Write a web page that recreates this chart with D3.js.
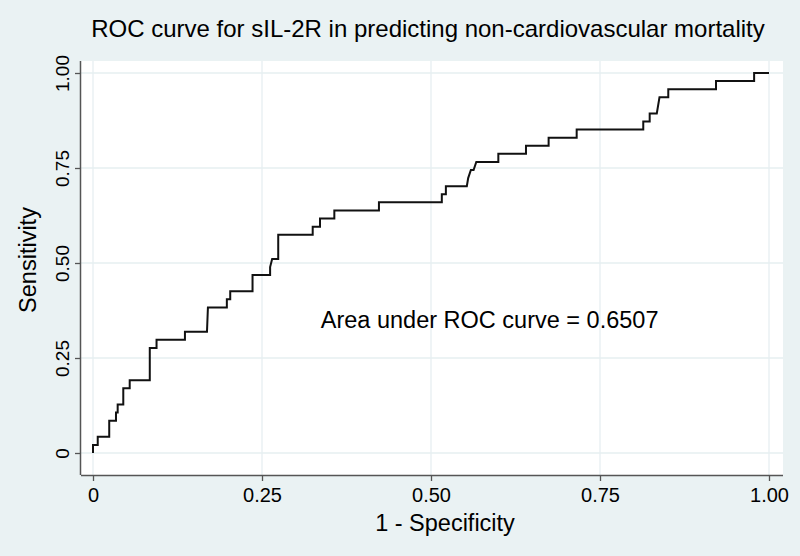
<!DOCTYPE html>
<html>
<head>
<meta charset="utf-8">
<script src="https://cdn.jsdelivr.net/npm/d3@7"></script>
<style>
  html, body { margin: 0; padding: 0; background: #eaf2f3; }
  svg text { font-family: "Liberation Sans", Arial, sans-serif; fill: #000; }
</style>
</head>
<body>
<svg id="chart" width="800" height="556"></svg>
<script>
// ROC curve corner points (1 - specificity, sensitivity)
const fpr  = [0, 0, 0.007, 0.007, 0.024, 0.024, 0.034, 0.034, 0.0365, 0.0365, 0.0448, 0.0448, 0.0543, 0.0543,
              0.084, 0.084, 0.094, 0.094, 0.136, 0.136, 0.1686, 0.170, 0.198, 0.198, 0.203, 0.203, 0.236, 0.236,
              0.262, 0.262, 0.265, 0.274, 0.274, 0.325, 0.325, 0.3358, 0.3358, 0.357, 0.357, 0.423, 0.423,
              0.516, 0.516, 0.522, 0.522, 0.553, 0.555, 0.559, 0.563, 0.567, 0.5996, 0.5996, 0.6405, 0.6405,
              0.674, 0.674, 0.7155, 0.7155, 0.814, 0.814, 0.8235, 0.8235, 0.834, 0.838, 0.851, 0.851,
              0.9216, 0.9216, 0.978, 0.978, 1.0];
const sens = [0, 0.0213, 0.0213, 0.0426, 0.0426, 0.0851, 0.0851, 0.1064, 0.1064, 0.1277, 0.1277, 0.1702, 0.1702, 0.1915,
              0.1915, 0.2766, 0.2766, 0.2979, 0.2979, 0.3191, 0.3191, 0.3830, 0.3830, 0.4043, 0.4043, 0.4255, 0.4255, 0.4681,
              0.4681, 0.4894, 0.5106, 0.5106, 0.5745, 0.5745, 0.5957, 0.5957, 0.6170, 0.6170, 0.6383, 0.6383, 0.6596,
              0.6596, 0.6809, 0.6809, 0.7021, 0.7021, 0.7234, 0.7447, 0.7447, 0.7660, 0.7660, 0.7872, 0.7872, 0.8085,
              0.8085, 0.8298, 0.8298, 0.8511, 0.8511, 0.8723, 0.8723, 0.8936, 0.8936, 0.9362, 0.9362, 0.9574,
              0.9574, 0.9787, 0.9787, 1.0, 1.0];
const xTicks = [0, 0.25, 0.5, 0.75, 1];
const xTickLabels = ["0", "0.25", "0.50", "0.75", "1.00"];
const yTicks = [0, 0.25, 0.5, 0.75, 1];
const yTickLabels = ["0", "0.25", "0.50", "0.75", "1.00"];
const titleText = "ROC curve for sIL-2R in predicting non-cardiovascular mortality";
const xTitle = "1 - Specificity";
const yTitle = "Sensitivity";
const aucText = "Area under ROC curve = 0.6507";
const aucPos = [0.337, 0.35];

const svg = d3.select("#chart");
const W = 800, H = 556;
const plot = { left: 81, right: 783, top: 61, bottom: 475 };
const FONT = "Liberation Sans, Arial, sans-serif";

svg.append("rect").attr("x", 0).attr("y", 0).attr("width", W).attr("height", H).attr("fill", "#eaf2f3");
svg.append("rect").attr("x", plot.left).attr("y", plot.top)
   .attr("width", plot.right - plot.left).attr("height", plot.bottom - plot.top).attr("fill", "#ffffff");

const x = d3.scaleLinear().domain([0, 1]).range([93, 769]);
const y = d3.scaleLinear().domain([0, 1]).range([453, 73]);

// gridlines
const grid = svg.append("g").attr("stroke", "#e6eff1").attr("stroke-width", 1.3);
grid.selectAll("line.h").data(yTicks).enter().append("line")
  .attr("x1", plot.left).attr("x2", plot.right)
  .attr("y1", d => y(d)).attr("y2", d => y(d));
grid.selectAll("line.v").data(xTicks).enter().append("line")
  .attr("y1", plot.top).attr("y2", plot.bottom)
  .attr("x1", d => x(d)).attr("x2", d => x(d));

// axes
const xAxis = d3.axisBottom(x).tickValues(xTicks).tickFormat((d, i) => xTickLabels[i]).tickSize(6).tickPadding(7);
const gx = svg.append("g").attr("transform", `translate(0,${plot.bottom})`).call(xAxis);
gx.select(".domain").attr("d", `M${plot.left},0.5H${plot.right}`).attr("stroke", "#555").attr("stroke-width", 1.5);
gx.selectAll(".tick line").attr("stroke", "#555").attr("stroke-width", 1.3);
gx.selectAll(".tick text").attr("font-size", 20).attr("font-family", FONT).attr("fill", "#000");

const yAxis = d3.axisLeft(y).tickValues(yTicks).tickFormat((d, i) => yTickLabels[i]).tickSize(6).tickPadding(7);
const gy = svg.append("g").attr("transform", `translate(${plot.left},0)`).call(yAxis);
gy.select(".domain").attr("d", `M-0.5,${plot.top}V${plot.bottom}`).attr("stroke", "#555").attr("stroke-width", 1.5);
gy.selectAll(".tick line").attr("stroke", "#555").attr("stroke-width", 1.3);
gy.selectAll(".tick text")
  .attr("font-size", 19).attr("font-family", FONT).attr("fill", "#000")
  .attr("x", null).attr("dy", null)
  .attr("text-anchor", "middle")
  .attr("transform", "translate(-12,0) rotate(-90)");

// ROC line
const pts = fpr.map((f, i) => [f, sens[i]]);
const line = d3.line().x(d => x(d[0])).y(d => y(d[1]));
svg.append("path").datum(pts).attr("d", line)
  .attr("fill", "none").attr("stroke", "#111").attr("stroke-width", 2).attr("stroke-linejoin", "miter");

// texts
svg.append("text").attr("x", 428).attr("y", 37).attr("text-anchor", "middle")
  .attr("font-size", 24).text(titleText);
svg.append("text").attr("x", 445).attr("y", 531).attr("text-anchor", "middle")
  .attr("font-size", 23.5).text(xTitle);
svg.append("text").attr("transform", `translate(36,260) rotate(-90)`).attr("text-anchor", "middle")
  .attr("font-size", 23.5).text(yTitle);
svg.append("text").attr("x", x(aucPos[0])).attr("y", y(aucPos[1])).attr("dy", "0.35em")
  .attr("font-size", 23.5).text(aucText);
</script>
</body>
</html>
